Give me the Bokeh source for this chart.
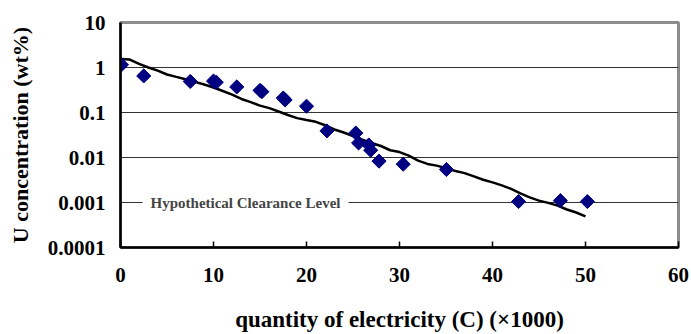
import numpy as np
from bokeh.plotting import figure
from bokeh.models import FixedTicker, Label, Range1d, CustomJSTickFormatter
from bokeh.embed import file_html
from bokeh.resources import INLINE

# measured points (quantity of electricity x1000, U concentration wt%)
meas_x = [0.1, 2.5, 7.5, 10.0, 10.3, 12.5, 15.0, 15.2, 17.5, 17.7, 20.0,
          22.2, 25.3, 25.6, 26.7, 26.9, 27.8, 30.4, 35.05, 42.8, 47.3, 50.2]
meas_y = [1.15, 0.65, 0.49, 0.50, 0.47, 0.37, 0.31, 0.29, 0.21, 0.19, 0.138,
          0.039, 0.035, 0.021, 0.019, 0.0145, 0.0083, 0.0071, 0.0054,
          0.00105, 0.0011, 0.00105]

# calculated curve
calc_x = list(range(0, 51))
calc_y = [1.55, 1.5, 1.2, 1.0, 0.85, 0.70, 0.62, 0.55, 0.48, 0.42,
          0.36, 0.30, 0.25, 0.20, 0.17, 0.142, 0.125, 0.105, 0.088, 0.075,
          0.068, 0.062, 0.052, 0.042, 0.036, 0.030, 0.025, 0.021, 0.018, 0.0145,
          0.0132, 0.011, 0.0085, 0.0072, 0.0066, 0.0058, 0.0050, 0.0045, 0.0038, 0.0032,
          0.0028, 0.0024, 0.0020, 0.0016, 0.0013, 0.0011, 0.00098, 0.00085, 0.00070, 0.00060,
          0.00049]

x_ticks = [0, 10, 20, 30, 40, 50, 60]
y_ticks = [0.0001, 0.001, 0.01, 0.1, 1, 10]
y_tick_labels = ["0.0001", "0.001", "0.01", "0.1", "1", "10"]

clearance_level = 0.001
clearance_text = "Hypothetical Clearance Level"
x_title = "quantity of electricity (C) (\u00d71000)"
y_title = "U concentration (wt%)"

FONT = "Liberation Serif"

p = figure(width=691, height=334, output_backend="svg", toolbar_location=None,
           y_axis_type="log", x_range=Range1d(0, 60), y_range=Range1d(0.0001, 10),
           min_border_left=120, min_border_right=13, min_border_top=22, min_border_bottom=86)
p.background_fill_color = "white"
p.border_fill_color = "white"
p.outline_line_color = "#8c8c8c"
p.outline_line_width = 3

p.xgrid.visible = False
p.ygrid.grid_line_color = "#333333"
p.ygrid.grid_line_width = 1.2

p.xaxis.ticker = FixedTicker(ticks=x_ticks)
p.yaxis.ticker = FixedTicker(ticks=y_ticks)
p.yaxis.formatter = CustomJSTickFormatter(
    args=dict(tvals=y_ticks, tlabels=y_tick_labels),
    code="""
    for (let i = 0; i < tvals.length; i++) {
        if (Math.abs(Math.log10(tick) - Math.log10(tvals[i])) < 1e-6) { return tlabels[i]; }
    }
    return "";
    """)
p.xaxis.minor_tick_line_color = None
p.yaxis.minor_tick_line_color = None
for ax in (p.xaxis, p.yaxis):
    ax.axis_line_color = "black"
    ax.axis_line_width = 2.5
    ax.major_label_text_font = FONT
    ax.major_label_text_font_style = "bold"
    ax.major_label_text_font_size = "21px"
    ax.major_label_text_color = "black"
    ax.axis_label_text_font = FONT
    ax.axis_label_text_font_style = "bold"
    ax.axis_label_text_font_size = "22px"
    ax.axis_label_text_color = "black"
p.xaxis.major_tick_in = 6
p.xaxis.major_tick_out = 0
p.xaxis.major_tick_line_color = "black"
p.xaxis.major_tick_line_width = 1.5
p.yaxis.major_tick_in = 0
p.yaxis.major_tick_out = 0
p.xaxis.major_label_standoff = 20
p.yaxis.major_label_standoff = 15
p.yaxis.axis_label = y_title
p.yaxis.axis_label_standoff = 12
p.xaxis.axis_label = x_title
p.xaxis.axis_label_standoff = 22
p.xaxis.axis_label_text_font_size = "23px"

p.line(calc_x, calc_y, line_color="black", line_width=2.5)
p.scatter(meas_x, meas_y, marker="square", angle=np.pi / 4, size=10,
          fill_color="#000080", line_color="#000080")

p.add_layout(Label(x=2.37, y=clearance_level, text=clearance_text,
                   text_font=FONT, text_font_style="bold", text_font_size="15px",
                   text_baseline="middle", text_align="left",
                   background_fill_color="white", padding=8))

open("out.html", "w").write(file_html(p, INLINE))
